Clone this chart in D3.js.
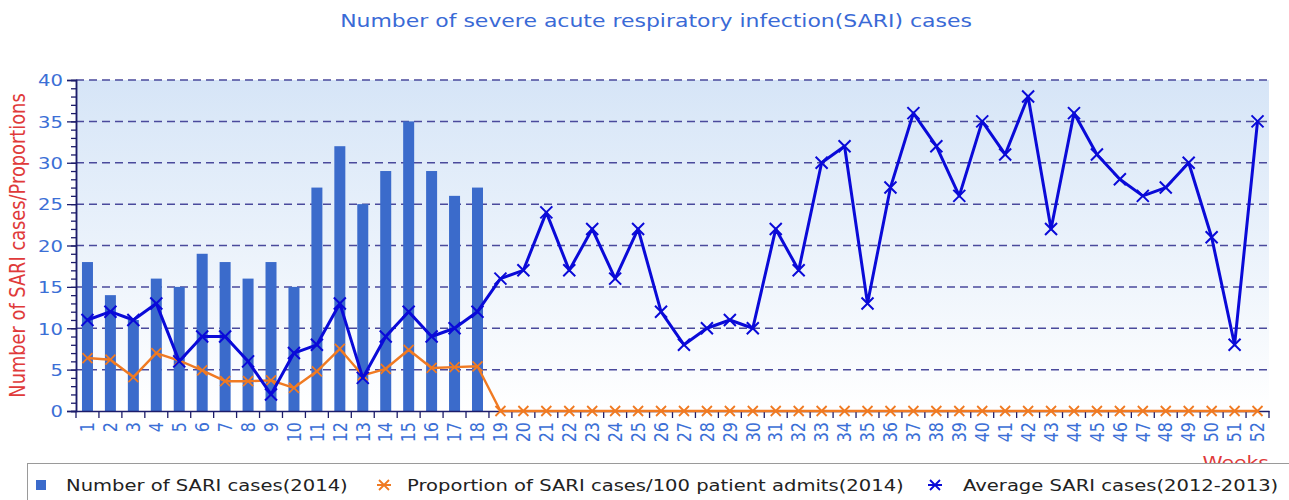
<!DOCTYPE html>
<html>
<head>
<meta charset="utf-8">
<script src="https://cdn.jsdelivr.net/npm/d3@7"></script>
<style>
  html, body { margin: 0; padding: 0; background: #ffffff; }
  svg { display: block; font-family: "DejaVu Sans", sans-serif; }
</style>
</head>
<body>
<svg id="chart" width="1289" height="500"></svg>
<script>
// ---- data ----
const weeks = d3.range(1, 53);
const sariCases2014 = [18, 14, 11, 16, 15, 19, 18, 16, 18, 15, 27, 32, 25, 29, 35, 29, 26, 27];
const proportion2014 = [6.4, 6.2, 4.1, 7.0, 6.1, 4.9, 3.6, 3.6, 3.7, 2.8, 4.8, 7.5, 4.3, 5.1, 7.4, 5.2, 5.3, 5.4,
  0, 0, 0, 0, 0, 0, 0, 0, 0, 0, 0, 0, 0, 0, 0, 0, 0, 0, 0, 0, 0, 0, 0, 0, 0, 0, 0, 0, 0, 0, 0, 0, 0, 0];
const averageCases = [11, 12, 11, 13, 6, 9, 9, 6, 2, 7, 8, 13, 4, 9, 12, 9, 10, 12, 16, 17,
  24, 17, 22, 16, 22, 12, 8, 10, 11, 10, 22, 17, 30, 32, 13, 27, 36, 32, 26, 35,
  31, 38, 22, 36, 31, 28, 26, 27, 30, 21, 8, 35];
const yTicks = [0, 5, 10, 15, 20, 25, 30, 35, 40];
const titleText = "Number of severe acute respiratory infection(SARI) cases";
const yTitle = "Number of SARI cases/Proportions";
const xTitle = "Weeks";
const legendLabels = ["Number of SARI cases(2014)", "Proportion of SARI cases/100 patient admits(2014)", "Average SARI cases(2012-2013)"];

// ---- layout ----
const SX = 1.2; // horizontal text stretch seen in the reference
const svg = d3.select("#chart");
const L = 76, R = 1269, T = 80, B = 411;
const x = d3.scaleBand().domain(weeks).range([L, R]).padding(0);
const y = d3.scaleLinear().domain([0, 40]).range([B, T]);
const cx = d => x(d) + x.bandwidth() / 2;

function stretchedText(parent, px, py, str, opts) {
  const t = parent.append("text")
    .attr("transform", `translate(${px},${py}) scale(${SX},1)` + (opts.rot ? ` rotate(${opts.rot})` : ""))
    .attr("text-anchor", opts.anchor || "start")
    .attr("font-size", opts.size).attr("fill", opts.fill).text(str);
  if (opts.dy) t.attr("dy", opts.dy);
  return t;
}

// background gradient
const defs = svg.append("defs");
const grad = defs.append("linearGradient").attr("id", "bg").attr("x1", 0).attr("y1", 0).attr("x2", 0).attr("y2", 1);
grad.append("stop").attr("offset", "0%").attr("stop-color", "#d6e5f7");
grad.append("stop").attr("offset", "100%").attr("stop-color", "#ffffff");
svg.append("rect").attr("x", L).attr("y", T).attr("width", R - L).attr("height", B - T).attr("fill", "url(#bg)");

// grid
svg.append("g").selectAll("line").data(yTicks.filter(v => v > 0)).join("line")
  .attr("x1", L).attr("x2", R).attr("y1", d => y(d)).attr("y2", d => y(d))
  .attr("stroke", "#4a4a9c").attr("stroke-width", 1.5).attr("stroke-dasharray", "8,5");

// title
stretchedText(svg, 656, 27, titleText, { size: 18.3, fill: "#3a6ad6", anchor: "middle" });

// bars
svg.append("g").selectAll("rect").data(sariCases2014).join("rect")
  .attr("x", (d, i) => cx(weeks[i]) - 5.5).attr("width", 11)
  .attr("y", d => y(d)).attr("height", d => y(0) - y(d))
  .attr("fill", "#3b6bcb");

// lines
function drawSeries(vals, color, w, ms, mw) {
  const line = d3.line().x((d, i) => cx(weeks[i])).y(d => y(d));
  svg.append("path").datum(vals).attr("d", line).attr("fill", "none").attr("stroke", color)
    .attr("stroke-width", w).attr("stroke-linejoin", "round");
  const g = svg.append("g");
  vals.forEach((v, i) => {
    const px = cx(weeks[i]), py = y(v);
    g.append("path").attr("d", `M${px - ms},${py - ms}L${px + ms},${py + ms}M${px - ms},${py + ms}L${px + ms},${py - ms}`)
      .attr("stroke", color).attr("stroke-width", mw).attr("fill", "none");
  });
}

// axes
const yAxis = svg.append("g").attr("transform", `translate(${L},0)`)
  .call(d3.axisLeft(y).tickValues(yTicks).tickSize(9).tickPadding(4));
const yMinor = svg.append("g").attr("transform", `translate(${L},0)`)
  .call(d3.axisLeft(y).tickValues(d3.range(0, 41)).tickSize(5).tickFormat(""));
[yAxis, yMinor].forEach(g => {
  g.select(".domain").attr("stroke", "#1c1c6a").attr("stroke-width", 1.5);
  g.selectAll(".tick line").attr("stroke", "#1c1c6a").attr("stroke-width", 1.3);
});
yAxis.selectAll(".tick text")
  .attr("fill", "#3b6fd6").attr("font-size", 16.3).attr("font-family", "DejaVu Sans")
  .attr("x", 0).attr("dy", "0.36em").attr("transform", `translate(-13,0) scale(${SX},1)`);

const xAxis = svg.append("g").attr("transform", `translate(0,${B})`)
  .call(d3.axisBottom(x).tickSize(0).tickPadding(0));
xAxis.select(".domain").attr("stroke", "#1c1c6a").attr("stroke-width", 1.5);
xAxis.selectAll(".tick text").attr("fill", "#3b6fd6").attr("font-size", 16).attr("font-family", "DejaVu Sans")
  .attr("text-anchor", "end").attr("x", 0).attr("y", 0).attr("dy", "0.35em")
  .attr("transform", `translate(0,11) scale(${SX},1) rotate(-90)`);
svg.append("g").selectAll("line").data(d3.range(0, 53)).join("line")
  .attr("x1", i => L + i * x.bandwidth()).attr("x2", i => L + i * x.bandwidth())
  .attr("y1", B).attr("y2", B + 7).attr("stroke", "#1c1c6a").attr("stroke-width", 1.3);

drawSeries(proportion2014, "#f07a22", 2.4, 5, 1.8);
drawSeries(averageCases, "#0a0ad8", 3, 6, 2);

// y title
stretchedText(svg, 25, (T + B) / 2, yTitle, { size: 17.8, fill: "#e03a3a", anchor: "middle", rot: -90 });

// x title
stretchedText(svg, 1269, 469, xTitle, { size: 17, fill: "#e03a3a", anchor: "end" });

// legend
svg.append("rect").attr("x", 27.5).attr("y", 463.5).attr("width", 1300).attr("height", 60)
  .attr("fill", "#ffffff").attr("stroke", "#9a9a9a");
const lg = svg.append("g");
lg.append("rect").attr("x", 36).attr("y", 480).attr("width", 10).attr("height", 10).attr("fill", "#3b6bcb");
stretchedText(lg, 66, 491, legendLabels[0], { size: 16.3, fill: "#222" });
function legMark(px, color) {
  const ms = 5, py = 485;
  lg.append("path").attr("d", `M${px - ms},${py - ms}L${px + ms},${py + ms}M${px - ms},${py + ms}L${px + ms},${py - ms}M${px - ms - 2},${py}L${px + ms + 2},${py}`)
    .attr("stroke", color).attr("stroke-width", 1.8).attr("fill", "none");
}
legMark(384, "#f07a22");
stretchedText(lg, 407, 491, legendLabels[1], { size: 16.3, fill: "#222" });
legMark(935, "#0a0ad8");
stretchedText(lg, 963, 491, legendLabels[2], { size: 16.3, fill: "#222" });
</script>
</body>
</html>
